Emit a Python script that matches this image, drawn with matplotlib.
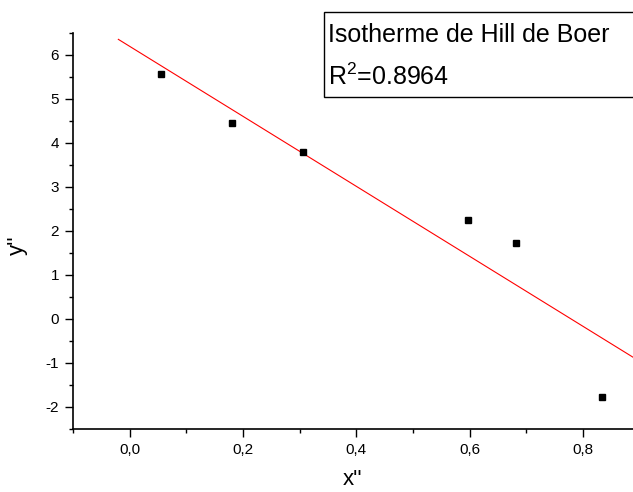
import numpy as np
import matplotlib
matplotlib.use("Agg")
import matplotlib.pyplot as plt
from matplotlib.ticker import MultipleLocator, FuncFormatter
from matplotlib.patches import Rectangle

plt.rcParams['font.family'] = ['Liberation Sans', 'DejaVu Sans']
plt.rcParams['axes.unicode_minus'] = False
plt.rcParams['mathtext.default'] = 'regular'

# points
x_vals = [0.056, 0.180, 0.305, 0.597, 0.681, 0.833]
y_vals = [5.556, 4.444, 3.787, 2.254, 1.732, -1.770]

# fitted line as drawn (slope / intercept)
fit_slope = -7.95
fit_intercept = 6.19
fit_xrange = [-0.02, 0.888]

legend_title = "Isotherme de Hill de Boer"
r2_text = "R$^2$=0.8964"

fig = plt.figure(figsize=(6.33, 4.92), dpi=100)
ax = fig.add_axes([73/633, 1 - 429/492, 1 - 73/633, (429 - 32.7)/492])

xf = np.array(fit_xrange)
ax.plot(xf, fit_slope*xf + fit_intercept, color='red', lw=0.8)
ax.plot(x_vals, y_vals, 's', color='black', markersize=4.6, ls='none')

ax.set_xlim(-0.1, 0.888)
ax.set_ylim(-2.5, 6.5)

for s in ['top', 'right']:
    ax.spines[s].set_visible(False)
for s in ['left', 'bottom']:
    ax.spines[s].set_linewidth(1.2)

ax.xaxis.set_major_locator(MultipleLocator(0.2))
ax.xaxis.set_minor_locator(MultipleLocator(0.1))
ax.yaxis.set_major_locator(MultipleLocator(1))
ax.yaxis.set_minor_locator(MultipleLocator(0.5))
ax.xaxis.set_major_formatter(FuncFormatter(lambda v, p: ("%.1f" % v).replace('.', ',')))
ax.yaxis.set_major_formatter(FuncFormatter(lambda v, p: "%d" % round(v)))

ax.tick_params(which='major', direction='out', length=6, width=1.0, labelsize=11, pad=4)
ax.tick_params(which='minor', direction='out', length=3, width=1.0)

ax.set_xlabel("x''", fontsize=16, labelpad=9)
ax.set_ylabel("y''", fontsize=16)
ax.yaxis.set_label_coords(-0.08, 0.465)

# legend-like box in top right
fig.patches.append(Rectangle((324/633, 1 - 97/492), 0.6, (97 - 11.7)/492,
                             transform=fig.transFigure, facecolor='white',
                             edgecolor='black', lw=1.0, zorder=5))
fig.text(328/633, 1 - 42/492, legend_title, fontsize=18, va='baseline', zorder=6)
fig.text(328/633, 1 - 85/492, r2_text, fontsize=18, va='baseline', zorder=6)

fig.savefig("out.png", dpi=100)
